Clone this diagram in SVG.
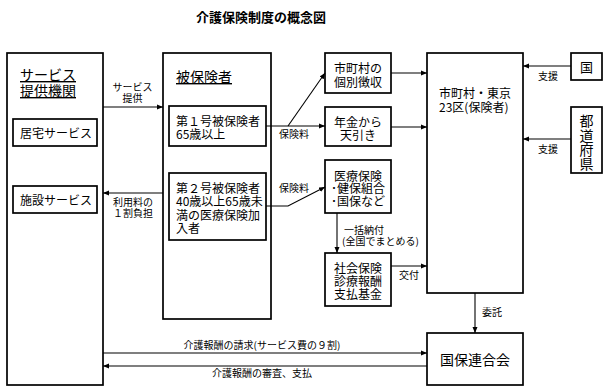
<svg xmlns="http://www.w3.org/2000/svg" width="607" height="392" viewBox="0 0 607 392">
<style>
text{font-family:"Noto Sans CJK JP","Liberation Sans",sans-serif;fill:#000}
.box{fill:#fff;stroke:#000;stroke-width:1.7}
.t12{font-size:12px}
.t14{font-size:14px}
.t10{font-size:10px}
.c{text-anchor:middle}
.u{text-decoration:underline}
.ln{fill:none;stroke:#000;stroke-width:1.1;marker-end:url(#ah)}
</style>
<defs>
<marker id="ah" markerUnits="userSpaceOnUse" markerWidth="7" markerHeight="6" refX="6" refY="3" orient="auto">
<path d="M0,0.5 L6,3 L0,5.5 z" fill="#000"/>
</marker>
</defs>
<rect width="607" height="392" fill="#fff"/>
<text x="261" y="22" class="c" style="font-size:13px;font-weight:bold">介護保険制度の概念図</text>

<g id="provider">
<rect class="box" x="7" y="53" width="96" height="332"/>
<text class="t14 u" x="20" y="80">サービス<tspan x="20" dy="16">提供機関</tspan></text>
</g>
<g id="home-service">
<rect class="box" x="13" y="119" width="84" height="27"/>
<text class="t12" x="20" y="138">居宅サービス</text>
</g>
<g id="facility-service">
<rect class="box" x="13" y="186" width="84" height="27"/>
<text class="t12" x="20" y="205">施設サービス</text>
</g>

<g id="insured">
<rect class="box" x="163" y="53" width="108" height="266"/>
<text class="t14 u" x="176" y="82">被保険者</text>
</g>
<g id="insured-1">
<rect class="box" x="169" y="106" width="97" height="40"/>
<text class="t12" x="176" y="125.5">第１号被保険者<tspan x="176" dy="13.5">65歳以上</tspan></text>
</g>
<g id="insured-2">
<rect class="box" x="169" y="173" width="97" height="67"/>
<text class="t12" x="176" y="193">第２号被保険者<tspan x="176" dy="13.4">40歳以上65歳未</tspan><tspan x="176" dy="13.4">満の医療保険加</tspan><tspan x="176" dy="13.4">入者</tspan></text>
</g>

<g id="individual">
<rect class="box" x="325" y="53" width="66" height="40"/>
<text class="t12 c" x="358" y="73">市町村の<tspan x="358" dy="14">個別徴収</tspan></text>
</g>
<g id="pension">
<rect class="box" x="325" y="107" width="66" height="39"/>
<text class="t12 c" x="358" y="127">年金から<tspan x="358" dy="13">天引き</tspan></text>
</g>
<g id="medical">
<rect class="box" x="325" y="160" width="66" height="53"/>
<text class="t12 c" x="358" y="180.5">医療保険<tspan x="358" dy="12.8">･健保組合</tspan><tspan x="358" dy="12.8">･国保など</tspan></text>
</g>
<g id="fund">
<rect class="box" x="325" y="253" width="66" height="53"/>
<text class="t12 c" x="358" y="273">社会保険<tspan x="358" dy="13">診療報酬</tspan><tspan x="358" dy="13">支払基金</tspan></text>
</g>

<g id="insurer">
<rect class="box" x="427" y="53" width="96" height="240"/>
<text class="t12" x="439" y="98">市町村・東京<tspan x="439" dy="14">23区(保険者)</tspan></text>
</g>
<g id="kokuho">
<rect class="box" x="427" y="333" width="96" height="52"/>
<text class="t14 c" x="475" y="365">国保連合会</text>
</g>

<g id="country">
<rect class="box" x="571" y="53" width="31" height="27"/>
<text class="c" x="586.5" y="72" style="font-size:13px">国</text>
</g>
<g id="prefecture">
<rect class="box" x="571" y="107" width="31" height="66"/>
<text class="t14" x="586.5" y="114" style="writing-mode:vertical-rl;letter-spacing:0.3px">都道府県</text>
</g>

<g id="connectors">
<path class="ln" d="M103,107 H163"/>
<path class="ln" d="M163,193 H103"/>
<path class="ln" d="M266,126 H325"/>
<path class="ln" d="M288,126 L325,73"/>
<path class="ln" d="M266,206 H288 L325,187"/>
<path class="ln" d="M391,73 H427"/>
<path class="ln" d="M391,127 H427"/>
<path class="ln" d="M571,66 H523"/>
<path class="ln" d="M571,139 H523"/>
<path class="ln" d="M337,213 V253"/>
<path class="ln" d="M391,266 H427"/>
<path class="ln" d="M475,293 V333"/>
<path class="ln" d="M103,353 H427"/>
<path class="ln" d="M427,366 H103"/>
<text class="t10 c" x="132.5" y="91">サービス<tspan x="132.5" dy="11">提供</tspan></text>
<text class="t10 c" x="133" y="205.5">利用料の<tspan x="133" dy="11.5">１割負担</tspan></text>
<text class="t10 c" x="294" y="138">保険料</text>
<text class="t10 c" x="294" y="192">保険料</text>
<text class="t10 c" x="548" y="80">支援</text>
<text class="t10 c" x="548" y="153">支援</text>
<text class="t10" x="344" y="233.5">一括納付<tspan x="342" dy="11.5">(全国でまとめる)</tspan></text>
<text class="t10" x="399" y="279">交付</text>
<text class="t10" x="482" y="316">委託</text>
<text class="t10 c" x="262" y="349">介護報酬の請求(サービス費の９割)</text>
<text class="t10 c" x="262" y="377">介護報酬の審査、支払</text>
</g>
</svg>
